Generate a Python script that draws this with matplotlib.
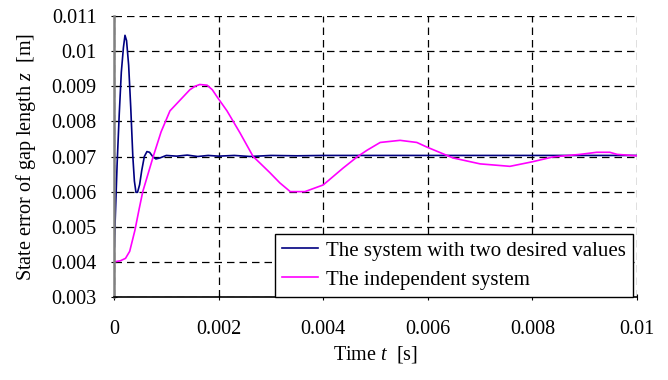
import numpy as np
from matplotlib import pyplot as plt

# time [s] and state error [m]
t_two = [0, 0.00003, 0.00006, 0.0001, 0.00014, 0.00018, 0.00021, 0.00024, 0.00028,
         0.00032, 0.00036, 0.00039, 0.00042, 0.00045, 0.00049, 0.00053, 0.00058,
         0.00063, 0.00068, 0.00074, 0.0008, 0.00088, 0.001, 0.0012, 0.0014, 0.0016,
         0.0018, 0.002, 0.0023, 0.0026, 0.003, 0.0035, 0.004, 0.005, 0.006, 0.007,
         0.008, 0.009, 0.01]
z_two = [0.0042, 0.0055, 0.0068, 0.0082, 0.0094, 0.0101, 0.01045, 0.0103, 0.0096,
         0.0084, 0.0070, 0.0063, 0.00598, 0.00598, 0.0062, 0.0066, 0.0070,
         0.00714, 0.00712, 0.00700, 0.00693, 0.00696, 0.00703, 0.00701, 0.00704, 0.00700,
         0.00703, 0.00701, 0.00703, 0.00700, 0.00703, 0.00702, 0.00703, 0.00703, 0.00703, 0.00703,
         0.00703, 0.00703, 0.00703]

t_ind = [0, 0.00012, 0.00022, 0.0003, 0.0004, 0.00048, 0.00055, 0.00075, 0.0009,
         0.00107, 0.00126, 0.00145, 0.00155, 0.00164, 0.00178, 0.00188, 0.00197, 0.00216,
         0.00241, 0.00266, 0.0028, 0.00298, 0.00317, 0.00337, 0.00365, 0.0040, 0.00438,
         0.00465, 0.00484, 0.00509, 0.00547, 0.00579, 0.00598, 0.00648, 0.007,
         0.00757, 0.008, 0.0084, 0.00891, 0.00923, 0.00948, 0.00962, 0.01]
z_ind = [0.0040, 0.00403, 0.0041, 0.0043, 0.0049, 0.0055, 0.0060, 0.0070, 0.0077,
         0.0083, 0.0086, 0.0089, 0.00900, 0.00905, 0.00903, 0.00890, 0.0087, 0.0083,
         0.00767, 0.0070, 0.0068, 0.00654, 0.00625, 0.0060, 0.0060, 0.00619, 0.00667,
         0.00699, 0.00718, 0.0074, 0.00746, 0.0074, 0.00727, 0.00696, 0.00679,
         0.00672, 0.00685, 0.00699, 0.00706, 0.00712, 0.00712, 0.00706, 0.00702]

x_ticks = [0, 0.002, 0.004, 0.006, 0.008, 0.01]
x_labels = ['0', '0.002', '0.004', '0.006', '0.008', '0.01']
y_ticks = [0.003, 0.004, 0.005, 0.006, 0.007, 0.008, 0.009, 0.01, 0.011]
y_labels = ['0.003', '0.004', '0.005', '0.006', '0.007', '0.008', '0.009', '0.01', '0.011']

plt.rcParams['font.family'] = ['Liberation Serif', 'DejaVu Serif']
plt.rcParams['mathtext.fontset'] = 'custom'
plt.rcParams['mathtext.it'] = 'Liberation Serif:italic'
plt.rcParams['mathtext.rm'] = 'Liberation Serif'

fs = 14.5

fig = plt.figure(figsize=(6.68, 3.8), dpi=100)
ax = fig.add_axes([114 / 668, 1 - 297 / 380, 523 / 668, 281 / 380])

ax.plot(t_two, z_two, color='#000080', lw=1.2, label='The system with two desired values')
ax.plot(t_ind, z_ind, color='#ff00ff', lw=1.2, label='The independent system')

ax.set_xlim(0, 0.01)
ax.set_ylim(0.003, 0.011)
ax.set_xticks(x_ticks)
ax.set_xticklabels(x_labels)
ax.set_yticks(y_ticks)
ax.set_yticklabels(y_labels)
ax.tick_params(labelsize=fs, direction='inout', length=5, color='black')
ax.tick_params(axis='x', pad=14)
ax.tick_params(axis='y', pad=10)

ax.grid(True, color='black', ls=(0, (6, 4)), lw=0.9)
ax.set_axisbelow(True)
ax.spines['top'].set_visible(False)
ax.spines['right'].set_visible(False)
ax.spines['left'].set_color('#808080')
ax.spines['left'].set_linewidth(1.8)
ax.spines['bottom'].set_color('black')
ax.spines['bottom'].set_linewidth(1.2)

ax.set_xlabel(r'Time $t$  [s]', fontsize=fs, labelpad=4)
ax.set_ylabel(r'State error of gap length $z$  [m]', fontsize=fs, labelpad=10)

leg = ax.legend(loc='lower right', bbox_to_anchor=(633 / 668, 1 - 297 / 380),
                bbox_transform=fig.transFigure, fontsize=15, frameon=True,
                fancybox=False, edgecolor='black', framealpha=1, borderaxespad=0,
                handlelength=1.7, handletextpad=0.4, labelspacing=0.45, borderpad=0.35)
leg.get_frame().set_linewidth(1.0)

fig.savefig('out.png', dpi=100)
